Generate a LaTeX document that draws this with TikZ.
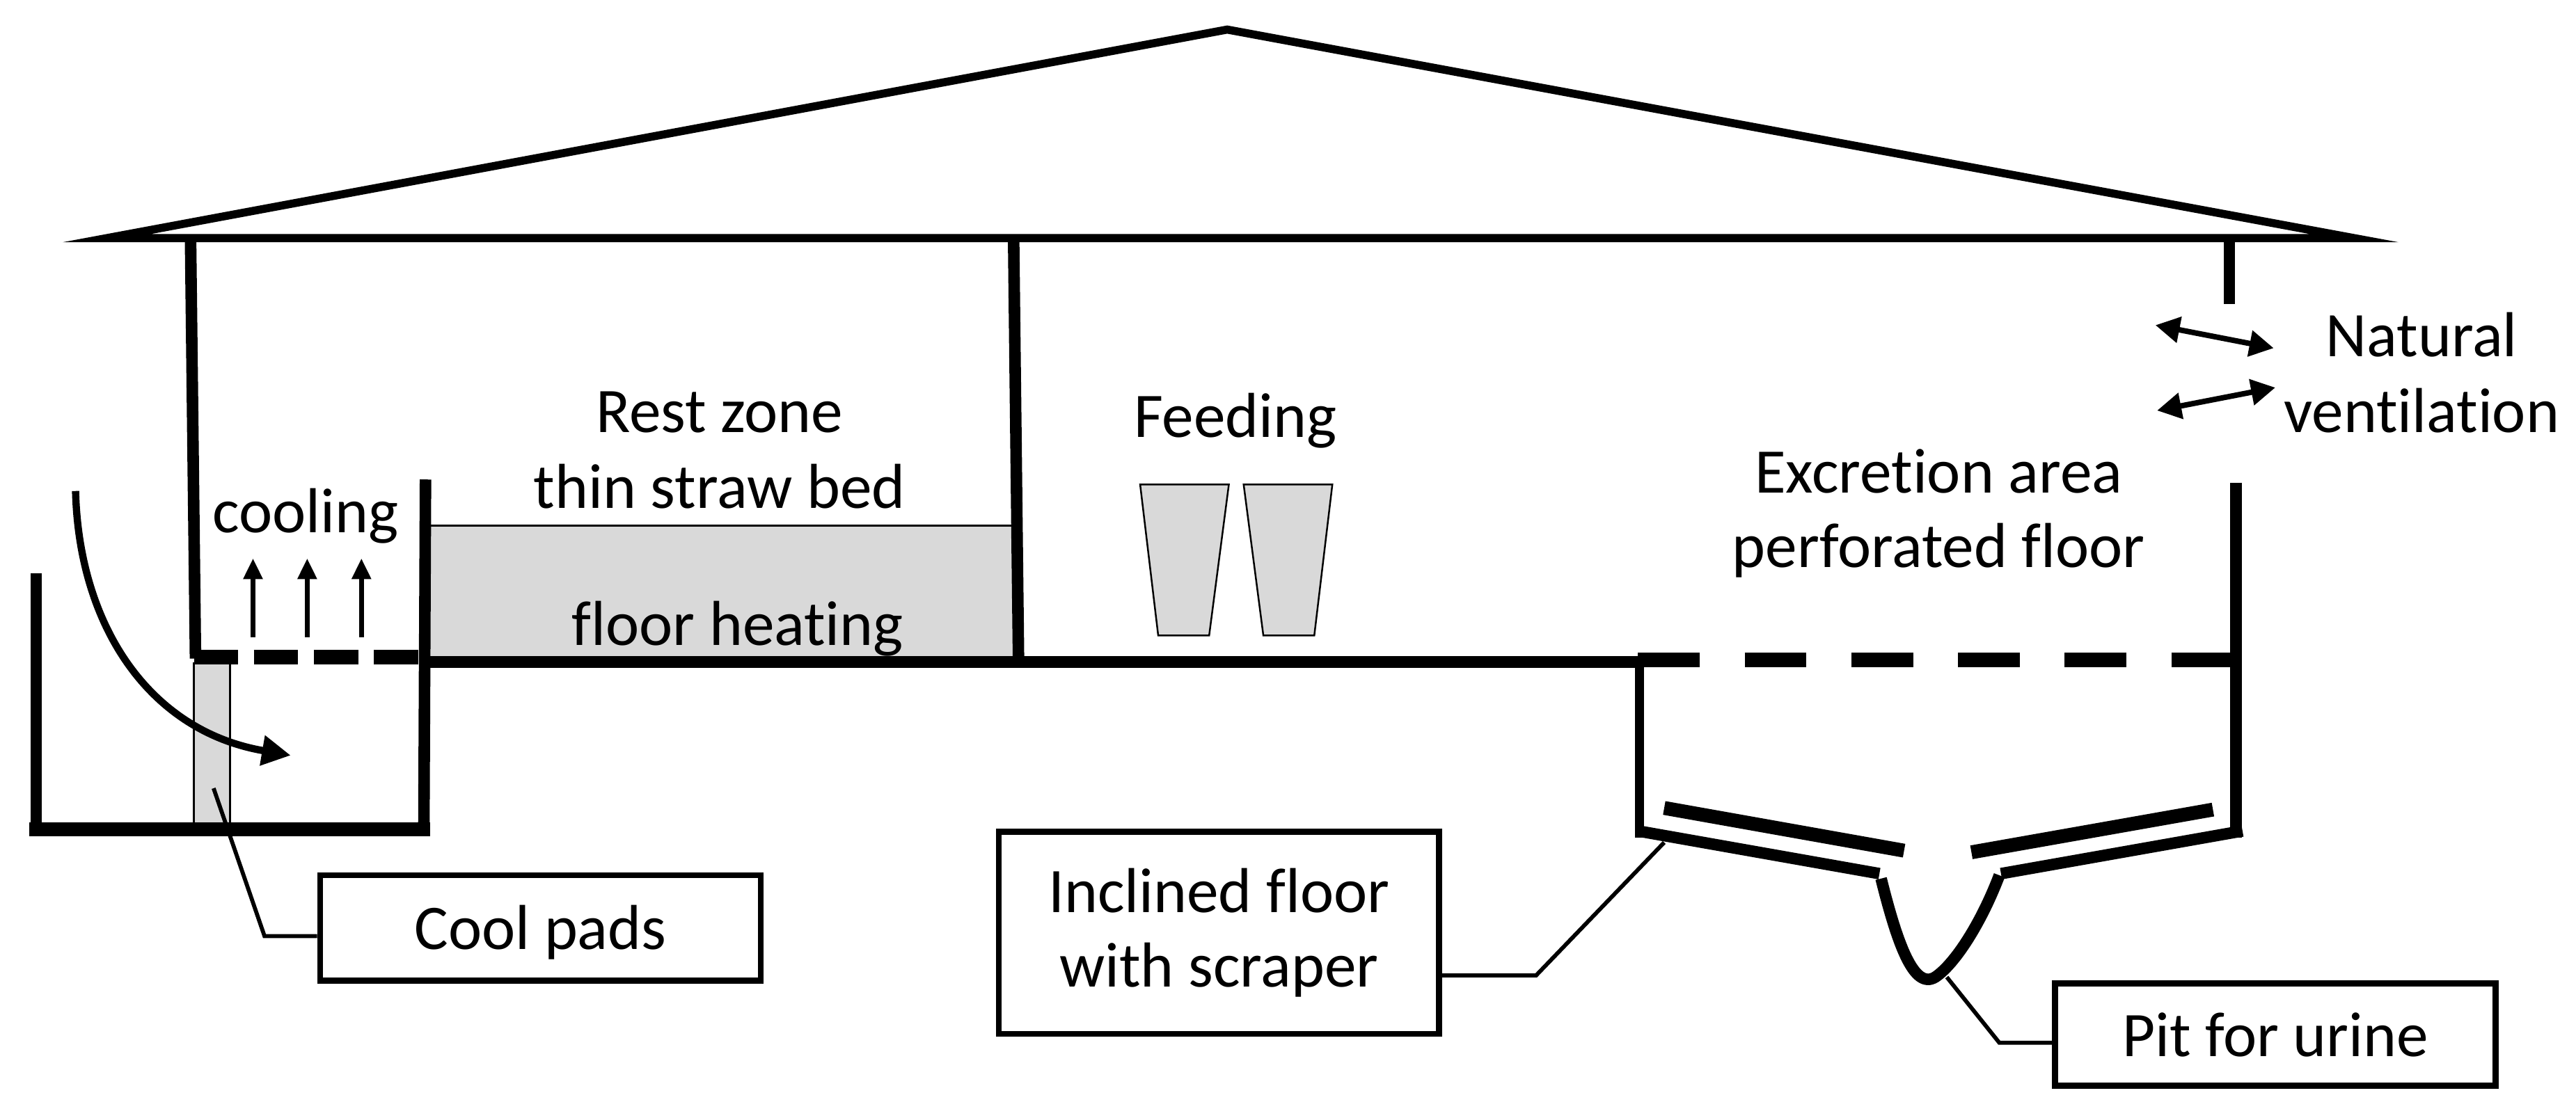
\documentclass[tikz,border=0pt]{standalone}
\usepackage{fontspec}
\setmainfont[Ligatures=NoCommon]{Carlito}
\usetikzlibrary{arrows.meta}
\definecolor{padgray}{HTML}{D9D9D9}
\tikzset{
  wall/.style={line width=2pt},
  slope/.style={line width=2.4pt},
  thinwall/.style={line width=1.5pt},
  lead/.style={line width=0.7pt},
  airflow/.style={line width=0.85pt,-{Triangle[length=3.6pt,width=3.2pt]}},
  windflow/.style={line width=0.95pt,{Triangle[length=4.2pt,width=4.4pt]}-{Triangle[length=4.2pt,width=4.4pt]}},
  padfill/.style={draw=black,line width=0.3pt,fill=padgray},
  lbl/.style={font=\fontsize{11}{13}\selectfont,inner sep=0pt,text=black},
  callout/.style={draw=black,line width=1.05pt,fill=white,lbl}
}
\begin{document}
\begin{tikzpicture}[x=0.01cm,y=-0.01cm]
  \useasboundingbox (0,0) rectangle (1568,675);
  % grey fills
  \draw[padfill] (260,320) rectangle (617,400);
  \draw[padfill] (118,404) rectangle (140,502);
  \draw[padfill] (694,295) -- (748,295) -- (736,387) -- (705,387) -- cycle;
  \draw[padfill] (757,295) -- (811,295) -- (800,387) -- (769,387) -- cycle;
  % roof
  \draw[line width=1.4pt,miter limit=30] (65,145) -- (747,18) -- (1433,145) -- cycle;
  % walls
  \draw[wall] (116,146) -- (119,401);
  \draw[wall] (617,146) -- (620,405);
  \draw[wall] (1357,146) -- (1357,185);
  \draw[wall] (1361,294) -- (1361,510);
  \draw[wall] (22,349) -- (22,508);
  \draw[wall] (259,292) -- (258,508);
  \draw[line width=2.3pt] (18,505) -- (262,505);
  \draw[wall] (258,403) -- (998,403);
  \draw[thinwall] (998,403) -- (998,510);
  % slatted floors
  \draw[line width=2.5pt,dash pattern=on 0.27cm off 0.095cm] (118,400) -- (258,400);
  \draw[line width=2.5pt,dash pattern=on 0.376cm off 0.273cm] (997,402) -- (1359,402);
  % inclined floor
  \draw[wall] (997,506) -- (1144,532);
  \draw[wall] (1365,506) -- (1218,532);
  \draw[slope] (1013,492) -- (1159,518);
  \draw[slope] (1347,493) -- (1200,519);
  \draw[wall] (1145,535) .. controls (1155,575) and (1165,603) .. (1178,595)
    .. controls (1190,587) and (1206,562) .. (1217,533);
  % air
  \foreach \x in {154,187,220}{\draw[airflow] (\x,388) -- (\x,340);}
  \draw[line width=1.25pt,-{Triangle[length=5pt,width=5pt]}] (46,299) .. controls (48,380) and (90,445) .. (177,460);
  \coordinate (ventaa) at (1312,198);
  \coordinate (ventab) at (1384,212);
  \coordinate (ventba) at (1313,250);
  \coordinate (ventbb) at (1385,236);
  \draw[windflow] (ventaa) -- (ventab);
  \draw[windflow] (ventba) -- (ventbb);
  % labels
  \node[lbl] (cooling) at (186,314) {cooling};
  \node[lbl] (restzone) at (438,251) {Rest zone};
  \node[lbl] (strawbed) at (438,296) {thin straw bed};
  \node[lbl] (floorheat) at (449,383) {floor heating};
  \node[lbl] (feeding) at (752,256) {Feeding};
  \node[lbl] (excretion) at (1180,287) {Excretion area};
  \node[lbl] (perforated) at (1180,335) {perforated floor};
  \node[lbl] (natural) at (1474,204) {Natural};
  \node[lbl] (ventilation) at (1474,250) {ventilation};
  % call-out boxes
  \node[callout,minimum width=2.68cm,minimum height=0.64cm] (coolbox) at (329,565) {\raisebox{-3.7pt}[0pt][0pt]{Cool pads}};
  \node[callout,minimum width=2.68cm,minimum height=1.23cm,align=center] (scraperbox) at (742,568)
    {Inclined floor\\with scraper};
  \node[callout,minimum width=2.68cm,minimum height=0.62cm] (pitbox) at (1385,630) {Pit for urine};
  \coordinate (coolend) at (130,480);
  \coordinate (coolelbow) at (161,570);
  \coordinate (scraperend) at (1013,513);
  \coordinate (scraperelbow) at (935,594);
  \coordinate (pitend) at (1185,595);
  \coordinate (pitelbow) at (1217,635);
  \draw[lead] (coolend) -- (coolelbow) -- (coolelbow -| coolbox.west);
  \draw[lead] (scraperend) -- (scraperelbow) -- (scraperelbow -| scraperbox.east);
  \draw[lead] (pitend) -- (pitelbow) -- (pitelbow -| pitbox.west);
\end{tikzpicture}
\end{document}
